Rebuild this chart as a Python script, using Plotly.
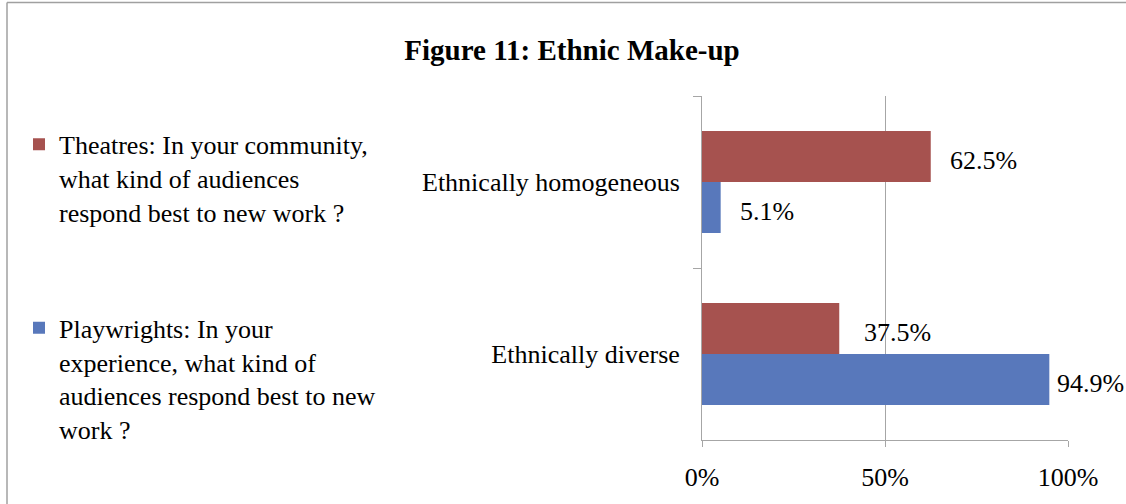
import plotly.graph_objects as go

categories = ["Ethnically homogeneous", "Ethnically diverse"]
theatres = [62.5, 37.5]
playwrights = [5.1, 94.9]
series_names = [
    "Theatres: In your community,<br>what kind of audiences<br>respond best to new work ?",
    "Playwrights: In your<br>experience, what kind of<br>audiences respond best to new<br>work ?",
]
tick_vals = [0, 50, 100]
tick_text = ["0%", "50%", "100%"]

RED = "#A6524F"
BLUE = "#5878BB"
FONT = "Liberation Serif"

fig = go.Figure()
fig.add_trace(go.Bar(y=categories, x=theatres, orientation="h", name=series_names[0],
                     marker=dict(color=RED, line=dict(width=0)), legendgroup="a"))
fig.add_trace(go.Bar(y=categories, x=playwrights, orientation="h", name=series_names[1],
                     marker=dict(color=BLUE, line=dict(width=0)), legendgroup="b"))

# data labels (label offsets from bar ends, as placed in the original)
label_shifts = [[17, 23], [17, 6]]
for tr_i, vals in enumerate([theatres, playwrights]):
    off = -0.15 if tr_i == 0 else 0.15
    for ci, v in enumerate(vals):
        fig.add_annotation(x=v, y=ci + off, xref="x", yref="y", text=f"{v:.1f}%",
                           showarrow=False, xanchor="left", xshift=label_shifts[tr_i][ci],
                           yshift=-4, font=dict(family=FONT, size=26, color="black"))

px_x = lambda p: (p - 702) / 366
px_y = lambda p: (442 - p) / 346

fig.update_layout(
    width=1126, height=504,
    margin=dict(l=702, r=58, t=96, b=62),
    paper_bgcolor="white", plot_bgcolor="white",
    barmode="group", bargap=0.407, bargroupgap=0,
    title=dict(text="<b>Figure 11: Ethnic Make-up</b>", x=572/1126, xanchor="center",
               y=1-50/504, yanchor="middle", font=dict(family=FONT, size=29, color="black")),
    font=dict(family=FONT, size=26, color="black"),
    showlegend=True,
    legend=dict(x=px_x(19), xanchor="left", y=px_y(121), yanchor="top",
                tracegroupgap=79, font=dict(family=FONT, size=26, color="black"),
                bgcolor="rgba(0,0,0,0)", traceorder="grouped", valign="top"),
    xaxis=dict(range=[0, 100], tickvals=tick_vals, ticktext=tick_text,
               showgrid=True, gridcolor="#A6A6A6", gridwidth=1,
               showline=True, linecolor="#A6A6A6", linewidth=1,
               ticks="outside", ticklen=6, tickcolor="#A6A6A6",
               zeroline=False, ticklabelstandoff=8,
               tickfont=dict(family=FONT, size=26, color="black")),
    yaxis=dict(autorange="reversed", showline=True, linecolor="#A6A6A6", linewidth=1,
               ticks="outside", ticklen=8, tickcolor="#A6A6A6", tickson="boundaries",
               showgrid=False, ticklabelstandoff=16,
               tickfont=dict(family=FONT, size=26, color="black")),
    shapes=[
        dict(type="line", xref="paper", yref="paper", x0=px_x(7), x1=px_x(1130),
             y0=px_y(2), y1=px_y(2), line=dict(color="#A0A0A0", width=1.5), layer="below"),
        dict(type="line", xref="paper", yref="paper", x0=px_x(7), x1=px_x(7),
             y0=px_y(2), y1=px_y(510), line=dict(color="#A0A0A0", width=1.5), layer="below"),
    ],
)

fig.write_html("out.html")
